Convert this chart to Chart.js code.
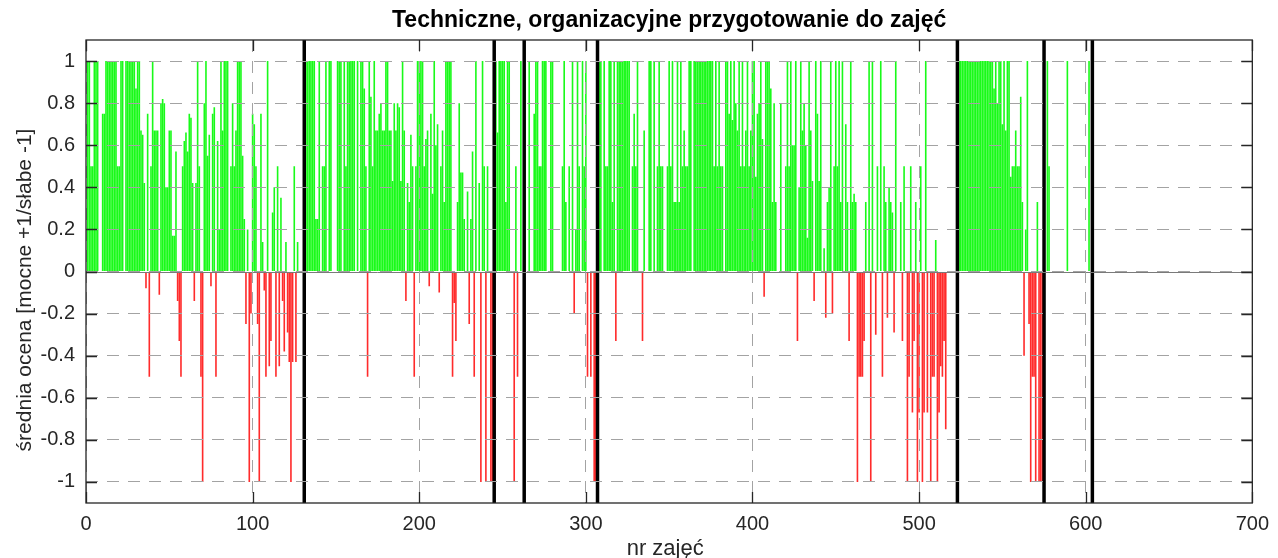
<!DOCTYPE html>
<html>
<head>
<meta charset="utf-8">
<script src="https://cdn.jsdelivr.net/npm/chart.js@4.4.1/dist/chart.umd.min.js"></script>
<style>
  html, body { margin: 0; padding: 0; background: #fff; }
</style>
</head>
<body>
<canvas id="wykres" width="1278" height="558"></canvas>
<script>
var tytul = 'Techniczne, organizacyjne przygotowanie do zajęć';
var opisY = 'średnia ocena [mocne +1/słabe -1]';
var opisX = 'nr zajęć';

var xTicks = [0, 100, 200, 300, 400, 500, 600, 700];
var yTicks = [-1, -0.8, -0.6, -0.4, -0.2, 0, 0.2, 0.4, 0.6, 0.8, 1];
var yTickLabels = ['-1', '-0.8', '-0.6', '-0.4', '-0.2', '0', '0.2', '0.4', '0.6', '0.8', '1'];
var xMin = 0, xMax = 700, yMin = -1.1, yMax = 1.1;

// pionowe kreski (przerwy miedzy semestrami)
var przerwy = [131, 245, 263, 307, 523, 575, 604];

// srednia ocena dla kolejnych zajec (nr 1, 2, 3 ...)
var ocena = [
  1, 1, 0.5, 0.5, 1, 1, 1, 0, 0, 0.75,
  0.75, 1, 1, 1, 1, 1, 1, 1, 0.5, 0.5,
  1, 1, 0, 1, 1, 1, 1, 1, 1, 0.87,
  1, 1, 0.67, 0.65, 0.42, -0.08, 0.75, -0.5, 0.5, 1,
  0.67, 0.67, 0.67, -0.11, 0.8, 0.82, 0.8, 0.4, 0.4, 0.67,
  0.67, 0.17, 0.17, 0.57, -0.14, -0.33, -0.5, 0.5, 0.62, 0.66,
  0.57, 0.75, 0.73, 0.42, -0.14, 0.42, 1, 0.5, -0.5, -1,
  0.8, 1, 0.55, 0.65, -0.07, 0.75, 0.78, -0.5, 0.62, 0.2,
  1, 0.67, 1, 1, 1, 0, 0.5, 0.8, 0.5, 0.67,
  1, 1, 1, 0.55, 0.25, -0.25, 0.2, -1, -0.2, 0.75,
  0.7, 0.5, -0.25, -1, 0.75, 0.14, -0.09, -0.5, 1, -0.45,
  -0.33, 0.28, 0.4, -0.5, 0.5, -0.45, 0.35, -0.14, -0.38, 0.14,
  -0.29, -0.43, -1, -0.43, 0.5, -0.43, 0.14, 0, 0, 0,
  0, 1, 1, 1, 1, 1, 1, 0.25, 0.25, 1,
  0, 0.5, 0.5, 1, 0, 1, 1, 0, 0, 0,
  1, 1, 1, 0, 1, 0.5, 1, 1, 1, 1,
  1, 0, 1, 0, 1, 1, 0.87, 0.5, -0.5, 1,
  0.83, 0.5, 1, 0.67, 0.67, 0.75, 0.8, 0.67, 0.67, 1,
  1, 0.67, 0.67, 0.43, 0.8, 0.67, 0.8, 0.78, 0.43, 1,
  0.67, -0.14, 0.42, 0.33, 0.65, 0.5, -0.5, 0.5, 1, 1,
  1, 1, 0.5, 0.63, 0.67, -0.07, 0.75, 0.37, 1, 0.6,
  0.7, -0.1, 0.5, 0.67, 0.33, 1, 1, 1, 1, -0.5,
  -0.15, -0.33, 0.33, 0.8, 0.47, 0.47, 0.25, 0, 0.38, -0.25,
  0.25, 0.57, -0.5, 1, 0, 0.42, -1, 1, 0.5, -1,
  0.5, 0, -1, -1, 0, 1, 0.66, 1, 1, 1,
  1, 0.33, 1, 1, 0, 0, -1, 0.5, -0.5, 0,
  1, 0, 0, 0, 0, 1, 0, 0, 0.75, 1,
  1, 0.5, 0.5, 1, 1, 1, 0, 0, 1, 1,
  0, 0, 0, 0, 0, 0.5, 1, 0.33, 0, 0.5,
  0, 1, -0.2, 0.2, 1, 0.5, 0, 1, 0.5, 1,
  -0.5, 0, -0.5, 0, -1, -1, 0, 1, 1, 0,
  1, 0.5, 0.5, 1, 1, 0.33, 1, -0.33, 1, 1,
  1, 1, 1, 1, 1, 1, 0, 0.5, 0.75, 0.5,
  1, 0, 0, -0.33, 0.67, 0, 0, 1, 1, 0,
  1, 0, 0.5, 1, 0.5, 0.5, 0, 0, 0.5, 1,
  0.5, 1, 0.33, 0.33, 1, 0.33, 1, 0.5, 0.67, 0.5,
  0.5, 1, 1, 0, 1, 1, 1, 1, 1, 1,
  1, 1, 1, 1, 1, 1, 0.5, 1, 0.5, 1,
  0.5, 0.5, 0, 1, 1, 0.75, 1, 0.72, 1, 0.8,
  0.67, 1, 0.5, 1, 0.5, 0.67, 1, 0.5, 0.67, 1,
  1, 0.45, 0.75, 0.8, 1, 0.63, -0.12, 1, 1, 1,
  0.87, 0.33, 0.8, 0.33, 0, 0, 0.8, 0, 0, 0.5,
  1, 0.5, 1, 0.6, 0.6, 1, -0.33, 0.4, 1, 0.67,
  0.8, 0.6, 0.16, 1, 0.67, 0.43, -0.14, 1, 0.75, 0.43,
  1, 0, 0.11, -0.22, 0.33, 0.4, 1, -0.2, 0.5, 1,
  0.5, 1, 0.33, 1, 0, 0.7, 0.33, -0.33, 1, 0.33,
  0.37, 0.33, -1, -0.5, -0.5, -0.5, -0.33, 0.33, 0, 1,
  -1, 1, 0, -0.3, 0.5, 0, 1, -0.5, 0.5, 0.33,
  -0.22, 0.4, 0.33, 0.28, -0.29, 1, 0, 0, 0.33, -0.33,
  0.5, 0, -1, -0.5, 0.5, -0.67, -0.33, 0.33, -1, -0.67,
  0.5, -1, -0.67, 1, -0.67, 0, -1, -0.5, -0.5, 0.15,
  -1, -0.67, -0.45, -0.5, -0.33, -0.75, 0, 0, 0, 0,
  0, 0, 0, 1, 1, 1, 1, 1, 1, 1,
  1, 1, 1, 1, 1, 1, 1, 1, 1, 1,
  1, 1, 1, 1, 0.87, 1, 0.8, 1, 1, 0.7,
  1, 0.67, 1, 1, 0.45, 0.5, 0.5, 0.67, 0.5, 0.5,
  0.83, 0.33, -0.4, 0.2, 1, -0.25, -1, -0.5, -0.5, -1,
  0.33, -1, -1, -1, 0, 0, 1, 0.5, 0, 0,
  0, 0, 0, 0, 0, 0, 0, 0, 1, 0,
  0, 0, 0, 0, 0, 0, 0, 0, 0, 0,
  0, 1
];

var zielony = 'rgba(0, 250, 0, 0.9)';
var czerwony = 'rgba(255, 20, 20, 0.9)';

var punkty = ocena.map(function(v, k) {
    return {x: k + 1, y: v};
}).filter(function(p) { return p.y !== 0; });

var linie = [];
przerwy.forEach(function(x) {
    linie.push({x: x, y: yMin}, {x: x, y: yMax}, {x: x, y: null});
});

var czcionka = '"Liberation Sans", Arial, sans-serif';

var ramka = {
    id: 'ramka',
    afterDatasetsDraw: function(chart) {
        var c = chart.ctx, a = chart.chartArea;
        var y0 = chart.scales.y.getPixelForValue(0);
        c.save();
        c.strokeStyle = '#7a7a7a';
        c.lineWidth = 1;
        c.beginPath();
        c.moveTo(a.left, Math.round(y0) + 0.5);
        c.lineTo(a.right, Math.round(y0) + 0.5);
        c.stroke();
        c.restore();
    },
    afterDraw: function(chart) {
        var c = chart.ctx, a = chart.chartArea;
        var sx = chart.scales.x, sy = chart.scales.y;
        c.save();
        c.strokeStyle = '#262626';
        c.lineWidth = 1.3;
        c.strokeRect(a.left, a.top, a.right - a.left, a.bottom - a.top);
        c.beginPath();
        yTicks.forEach(function(v) {
            var p = Math.round(sy.getPixelForValue(v)) + 0.5;
            c.moveTo(a.left, p); c.lineTo(a.left + 11, p);
            c.moveTo(a.right, p); c.lineTo(a.right - 11, p);
        });
        xTicks.forEach(function(v) {
            var p = Math.round(sx.getPixelForValue(v)) + 0.5;
            c.moveTo(p, a.bottom); c.lineTo(p, a.bottom - 11);
            c.moveTo(p, a.top); c.lineTo(p, a.top + 11);
        });
        c.stroke();

        var srodek = (a.left + a.right) / 2;
        c.textAlign = 'center';
        c.textBaseline = 'alphabetic';
        c.fillStyle = '#000';
        c.font = 'bold 23px ' + czcionka;
        c.fillText(tytul, srodek, 27);
        c.fillStyle = '#262626';
        c.font = '22px ' + czcionka;
        c.fillText(opisX, srodek - 4, 555);
        c.font = '21px ' + czcionka;
        c.translate(31, 290);
        c.rotate(-Math.PI / 2);
        c.fillText(opisY, 0, 0);
        c.restore();
    }
};

var siatka = {
    color: '#a3a3a3',
    lineWidth: 1,
    drawTicks: false,
    offset: false,
    z: 1
};

new Chart(document.getElementById('wykres'), {
    type: 'bar',
    data: {
        datasets: [
            {
                type: 'line',
                data: linie,
                borderColor: '#000',
                borderWidth: 3.5,
                pointRadius: 0,
                spanGaps: false,
                order: 0
            },
            {
                type: 'bar',
                data: punkty,
                backgroundColor: function(ctx) {
                    return ctx.raw && ctx.raw.y < 0 ? czerwony : zielony;
                },
                borderWidth: 0,
                barPercentage: 0.97,
                categoryPercentage: 1,
                order: 1
            }
        ]
    },
    options: {
        responsive: false,
        maintainAspectRatio: false,
        animation: false,
        events: [],
        layout: { padding: { top: 40, right: 20, left: 0, bottom: 0 } },
        plugins: {
            legend: { display: false },
            tooltip: { enabled: false },
            title: { display: false }
        },
        scales: {
            x: {
                type: 'linear',
                min: xMin,
                max: xMax,
                offset: false,
                afterBuildTicks: function(s) { s.ticks = xTicks.map(function(v) { return {value: v}; }); },
                afterFit: function(s) { s.height = 55; },
                ticks: {
                    color: '#262626',
                    font: { family: czcionka, size: 20 },
                    padding: 9,
                    maxRotation: 0,
                    autoSkip: false,
                    callback: function(v) { return String(v); }
                },
                grid: siatka,
                border: { display: false, dash: [12, 9] }
            },
            y: {
                type: 'linear',
                min: yMin,
                max: yMax,
                afterBuildTicks: function(s) { s.ticks = yTicks.map(function(v) { return {value: v}; }); },
                afterFit: function(s) { s.width = 86; },
                ticks: {
                    color: '#262626',
                    font: { family: czcionka, size: 20 },
                    padding: 11,
                    autoSkip: false,
                    callback: function(v, i) { return yTickLabels[i]; }
                },
                grid: siatka,
                border: { display: false, dash: [12, 9] }
            }
        }
    },
    plugins: [ramka]
});
</script>
</body>
</html>
